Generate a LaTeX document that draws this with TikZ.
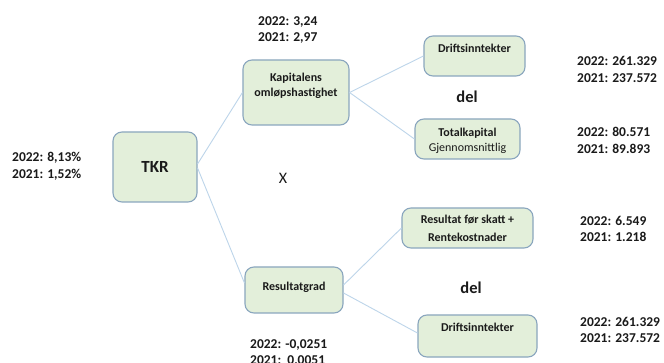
\documentclass[tikz,border=0pt]{standalone}
\usepackage{fontspec}
\setmainfont{Carlito}
\definecolor{boxfill}{HTML}{E3EFDA}
\definecolor{boxdraw}{HTML}{8AA6BE}
\definecolor{connc}{HTML}{BDD5EA}
\definecolor{txt}{HTML}{1A1A1A}
\tikzset{
  box/.style={draw=boxdraw, fill=boxfill, line width=1.1pt, rounded corners=9pt, inner sep=0pt},
  conn/.style={draw=connc, line width=0.9pt},
  lbl/.style={inner sep=0pt, text=txt, font=\bfseries\fontsize{12}{15}\selectfont, align=center},
  num/.style={inner sep=0pt, text=txt, anchor=west, align=left, font=\bfseries\fontsize{13.5}{16.5}\selectfont},
  big/.style={inner sep=0pt, text=txt, font=\bfseries\fontsize{17}{20}\selectfont}
}
\begin{document}
\begin{tikzpicture}[x=1pt,y=-1pt]
\useasboundingbox[fill=white] (0,0) rectangle (664,363);
% boxes
\node[box, minimum width=84pt, minimum height=70pt] (tkr) at (155,167) {};
\node[box, minimum width=106pt, minimum height=65pt] (kap) at (296,92.5) {};
\node[box, minimum width=101pt, minimum height=40pt] (dr1) at (474.5,56) {};
\node[box, minimum width=105pt, minimum height=40pt] (tot) at (467.5,139) {};
\node[box, minimum width=98pt, minimum height=46pt] (res) at (294,290) {};
\node[box, minimum width=131pt, minimum height=40pt] (rfs) at (467.5,228) {};
\node[box, minimum width=119pt, minimum height=42pt] (dr2) at (477.5,336) {};
% box texts
\node[big] (tkrt) at (155,167) {TKR};
\node[lbl] (kapt) at (296,85.5) {Kapitalens\\omløpshastighet};
\node[lbl] (dr1t) at (474.5,48) {Driftsinntekter};
\node[lbl, font=\fontsize{12}{15}\selectfont] (tott) at (467.5,140.5) {\textbf{Totalkapital}\\Gjennomsnittlig};
\node[lbl] (rest) at (294,287) {Resultatgrad};
\node[lbl, font=\bfseries\fontsize{12}{18}\selectfont] (rfst) at (467.5,228) {Resultat før skatt +\\Rentekostnader};
\node[lbl] (dr2t) at (477.5,327) {Driftsinntekter};
% connectors
\draw[conn] ([yshift=3pt]tkr.east) -- (kap.west);
\draw[conn] ([yshift=-1pt]tkr.east) -- ([yshift=7pt]res.west);
\draw[conn] (kap.east) -- (dr1.west);
\draw[conn] (kap.east) -- (tot.west);
\draw[conn] ([yshift=5pt]res.east) -- (rfs.west);
\draw[conn] ([yshift=-3pt]res.east) -- ([yshift=3pt]dr2.west);
% operators
\node[inner sep=0pt, text=txt, font=\fontsize{16}{18}\selectfont] (x) at (283,178) {X};
\node[big, font=\bfseries\fontsize{16.5}{20}\selectfont] (del1) at (467,97) {del};
\node[big, font=\bfseries\fontsize{16.5}{20}\selectfont] (del2) at (471,288) {del};
% numbers
\node[num] (n1) at (258,30) {2022: 3,24\\2021: 2,97};
\node[num] (n2) at (12,166.5) {2022: 8,13\%\\2021: 1,52\%};
\node[num] (n3) at (577,69.5) {2022: 261.329\\2021: 237.572};
\node[num] (n4) at (577,140.5) {2022: 80.571\\2021: 89.893};
\node[num] (n5) at (580,229) {2022: 6.549\\2021: 1.218};
\node[num] (n6) at (580,330) {2022: 261.329\\2021: 237.572};
\node[num] (n7) at (250,353) {2022: -0,0251\\2021:\ \ 0,0051};
\end{tikzpicture}
\end{document}
